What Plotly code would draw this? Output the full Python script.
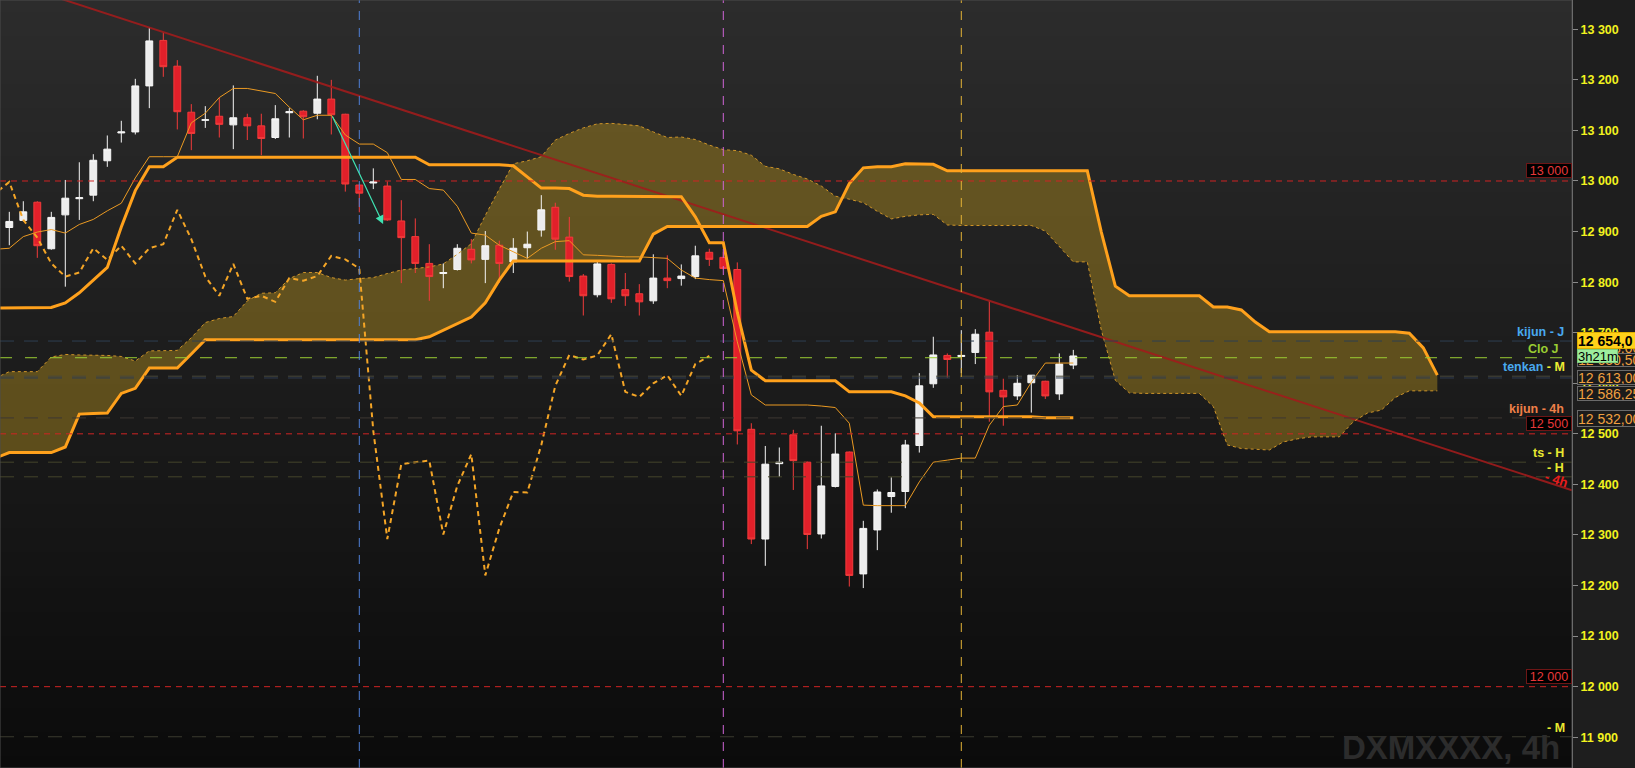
import plotly.graph_objects as go

# ---------------- data ----------------
candle_x = list(range(77))
open_ = [12908, 12922, 12958, 12866, 12933, 12965, 12972, 13040, 13095, 13097,
         13188, 13278, 13227, 13136, 13120, 13128, 13111, 13125, 13109, 13086,
         13135, 13138, 13134, 13162, 13132, 12992, 12996, 12990, 12921, 12890,
         12837, 12817, 12825, 12865, 12845, 12873, 12840, 12868, 12903, 12948,
         12889, 12812, 12775, 12835, 12785, 12777, 12763, 12808, 12807, 12811,
         12859, 12849, 12825, 12509, 12292, 12441, 12498, 12444, 12302, 12396,
         12464, 12223, 12310, 12376, 12386, 12477, 12599, 12655, 12653, 12661,
         12701, 12586, 12575, 12601, 12604, 12579, 12636]
high = [12939, 12960, 12960, 12939, 13002, 13037, 13053, 13090, 13119, 13202,
        13303, 13294, 13239, 13152, 13148, 13165, 13189, 13133, 13133, 13150,
        13144, 13140, 13208, 13200, 13133, 12993, 13025, 12999, 12962, 12926,
        12875, 12837, 12875, 12885, 12901, 12882, 12887, 12900, 12972, 12957,
        12929, 12816, 12840, 12837, 12818, 12796, 12855, 12853, 12835, 12872,
        12866, 12860, 12839, 12521, 12476, 12473, 12508, 12445, 12516, 12501,
        12465, 12328, 12390, 12414, 12488, 12620, 12692, 12659, 12705, 12707,
        12763, 12609, 12616, 12616, 12605, 12659, 12666]
low = [12873, 12920, 12848, 12864, 12791, 12923, 12960, 13028, 13076, 13092,
       13144, 13206, 13102, 13061, 13105, 13086, 13063, 13081, 13051, 13083,
       13086, 13084, 13122, 13092, 12979, 12938, 12984, 12921, 12798, 12818,
       12763, 12788, 12823, 12837, 12798, 12799, 12818, 12847, 12890, 12864,
       12801, 12734, 12770, 12759, 12753, 12734, 12757, 12788, 12793, 12806,
       12832, 12825, 12479, 12282, 12239, 12415, 12389, 12272, 12293, 12394,
       12198, 12195, 12270, 12344, 12353, 12463, 12591, 12611, 12620, 12638,
       12524, 12516, 12567, 12542, 12569, 12567, 12628]
close = [12920, 12939, 12872, 12928, 12966, 12967, 13041, 13063, 13097, 13188,
         13277, 13226, 13137, 13094, 13121, 13112, 13125, 13109, 13084, 13123,
         13137, 13127, 13162, 13131, 12994, 12976, 12998, 12923, 12888, 12837,
         12811, 12819, 12867, 12844, 12872, 12837, 12867, 12875, 12943, 12885,
         12811, 12773, 12836, 12767, 12773, 12761, 12808, 12803, 12812, 12852,
         12845, 12827, 12506, 12292, 12440, 12444, 12447, 12301, 12397, 12460,
         12220, 12313, 12385, 12384, 12478, 12595, 12656, 12647, 12655, 12697,
         12583, 12573, 12600, 12616, 12575, 12638, 12654]

ichi_x = list(range(-1, 77))
tenkan = [12865, 12867, 12890, 12899, 12904, 12897, 12914, 12924, 12941, 12956,
          13006, 13048, 13048, 13048, 13115, 13134, 13165, 13183, 13183, 13178,
          13173, 13146, 13121, 13130, 13130, 13091, 13073, 13073, 13056, 13003,
          13003, 12985, 12982, 12950, 12897, 12893, 12873, 12860, 12847, 12867,
          12880, 12882, 12854, 12853, 12851, 12850, 12850, 12849, 12847, 12824,
          12808, 12805, 12803, 12682, 12577, 12557, 12557, 12557, 12557, 12555,
          12552, 12521, 12359, 12358, 12358, 12358, 12405, 12444, 12448, 12452,
          12452, 12517, 12554, 12557, 12602, 12640, 12640, 12640]
kijun = [12749, 12749, 12749, 12749, 12750, 12759, 12779, 12804, 12829, 12909,
         12981, 13028, 13028, 13047, 13047, 13047, 13047, 13047, 13047, 13047,
         13047, 13047, 13047, 13047, 13047, 13047, 13047, 13047, 13047, 13047,
         13047, 13032, 13032, 13032, 13032, 13032, 13032, 13030, 13008, 12986,
         12986, 12985, 12972, 12970, 12970, 12970, 12970, 12970, 12970, 12969,
         12929, 12878, 12878, 12740, 12626, 12605, 12605, 12605, 12605, 12605,
         12605, 12583, 12583, 12583, 12583, 12575, 12561, 12534, 12534, 12534,
         12534, 12534, 12534, 12534, 12534, 12532, 12532, 12532]

cloud_x = list(range(-1, 103))
senkou_a = [12610, 12623, 12623, 12623, 12652, 12657, 12656, 12656, 12655, 12653,
            12644, 12664, 12664, 12665, 12690, 12720, 12728, 12732, 12763, 12778,
            12779, 12807, 12819, 12819, 12809, 12804, 12807, 12809, 12817, 12824,
            12827, 12830, 12836, 12855, 12876, 12932, 12984, 13034, 13040, 13048,
            13081, 13094, 13105, 13113, 13114, 13112, 13109, 13097, 13086, 13087,
            13082, 13071, 13062, 13060, 13051, 13029, 13024, 13013, 13004, 12990,
            12970, 12964, 12957, 12940, 12925, 12930, 12933, 12934, 12913, 12912,
            12912, 12912, 12912, 12912, 12912, 12901, 12871, 12840, 12840, 12705,
            12606, 12581, 12580, 12580, 12580, 12580, 12580, 12554, 12478, 12471,
            12470, 12468, 12484, 12490, 12494, 12494, 12494, 12524, 12541, 12547,
            12572, 12585, 12585, 12585]
senkou_b = [12452, 12463, 12463, 12463, 12463, 12474, 12539, 12540, 12541, 12580,
            12590, 12630, 12630, 12630, 12658, 12686, 12686, 12686, 12686, 12686,
            12686, 12686, 12686, 12686, 12686, 12686, 12686, 12686, 12686, 12686,
            12686, 12692, 12705, 12717, 12731, 12759, 12804, 12842, 12842, 12842,
            12842, 12842, 12842, 12842, 12842, 12842, 12842, 12895, 12910, 12910,
            12910, 12910, 12910, 12910, 12910, 12910, 12910, 12910, 12910, 12930,
            12939, 12995, 13026, 13028, 13028, 13034, 13034, 13033, 13020, 13020,
            13020, 13020, 13020, 13020, 13020, 13020, 13020, 13020, 13020, 12899,
            12792, 12773, 12773, 12773, 12773, 12773, 12773, 12751, 12751, 12745,
            12721, 12702, 12702, 12702, 12702, 12702, 12702, 12702, 12702, 12702,
            12702, 12699, 12670, 12616]
chikou_shift = 26

trend_x = [-0.664, 111.62]
trend_y = [13399.5, 12388.4]

arrow_x = [23.03, 26.7]
arrow_y = [13130.5, 12915.0]

vline_x = [25, 51, 68]
vline_colors = ['#4f80d8', '#d064d8', '#e3b236']

red_levels = [13000, 12500, 12000]
red_level_text = ['13 000', '12 500', '12 000']

aux_levels = [12683.5, 12650.5, 12614.0, 12610.5, 12531.5, 12444.0, 12415.0, 11901.0]
aux_colors = ['#2e3f52', '#9acd32', '#47473a', '#2e3c52', '#3e3833', '#45452b', '#45452b', '#3a3a2e']

level_label_text = ['kijun - J', 'Clo J',
                    '<span style="color:#49a9ef">tenkan</span> - M',
                    'kijun - 4h', 'ts - H', '- H', '- M']
level_label_y = [12683.5, 12650.5, 12614.0, 12531.5, 12444.0, 12415.0, 11901.0]
level_label_color = ['#49a9ef', '#9acd32', '#eded33', '#ef8048', '#e8e830', '#e8e830', '#e8e830']

ytick_vals = list(range(11900, 13301, 100))
ytick_text = ['%d %03d' % (v // 1000, v % 1000) for v in ytick_vals]

price_labels = ['12 683,00', '12 650,50', '12 654,0', '3h21m', '12 613,00', '12 586,25', '12 532,00']

# ---------------- geometry ----------------
W, H = 1635, 768
PLOT_W = 1572
X_RANGE = [-0.664, 111.62]
Y_RANGE = [11839.2, 13357.9]


def py(ypx):
    return 1 - ypx / H


def px(xpx):
    return xpx / PLOT_W


fig = go.Figure()

# trend line
fig.add_trace(go.Scatter(x=trend_x, y=trend_y, mode='lines',
                         line=dict(color='rgba(160,28,28,0.9)', width=2), hoverinfo='skip'))

# candles
fig.add_trace(go.Candlestick(
    x=candle_x, open=open_, high=high, low=low, close=close,
    increasing=dict(line=dict(color='#f6f6f6', width=1), fillcolor='#ededed'),
    decreasing=dict(line=dict(color='#f23b3b', width=1), fillcolor='#e2202a'),
    whiskerwidth=0, hoverinfo='skip'))

# ichimoku lines
fig.add_trace(go.Scatter(x=cloud_x, y=senkou_a, mode='lines',
                         line=dict(color='#cf9428', width=1, dash='3px,3px'), hoverinfo='skip'))
fig.add_trace(go.Scatter(x=cloud_x, y=senkou_b, mode='lines',
                         line=dict(color='#ffa11c', width=3), hoverinfo='skip'))
fig.add_trace(go.Scatter(x=ichi_x, y=kijun, mode='lines',
                         line=dict(color='#ffa11c', width=3), hoverinfo='skip'))
fig.add_trace(go.Scatter(x=ichi_x, y=tenkan, mode='lines',
                         line=dict(color='#eb9a22', width=1), hoverinfo='skip'))
fig.add_trace(go.Scatter(x=[i - chikou_shift for i in candle_x], y=close, mode='lines',
                         line=dict(color='#f4a526', width=2, dash='5px,4px'), hoverinfo='skip'))

shapes = []
# background gradient
N = 64
for k in range(N):
    t = (k + 0.5) / N
    c = int(round(44 - 33 * t))
    shapes.append(dict(type='rect', xref='paper', yref='paper', x0=0, x1=1,
                       y0=1 - (k + 1) / N, y1=1 - k / N, layer='below',
                       line=dict(width=0), fillcolor='rgb(%d,%d,%d)' % (c, c, c)))
# cloud
pa = ' L '.join('%s,%s' % (x, y) for x, y in zip(cloud_x, senkou_a))
pb = ' L '.join('%s,%s' % (x, y) for x, y in reversed(list(zip(cloud_x, senkou_b))))
shapes.append(dict(type='path', xref='x', yref='y', path='M ' + pa + ' L ' + pb + ' Z',
                   layer='below', line=dict(width=0), fillcolor='rgba(178,143,30,0.45)'))
# aux level lines
for v, c in zip(aux_levels, aux_colors):
    dash = '12px,13px' if c == '#9acd32' else '14px,10px'
    shapes.append(dict(type='line', xref='paper', yref='y', x0=0, x1=1, y0=v, y1=v,
                       layer='above', line=dict(color=c, width=1, dash=dash)))
# red levels
for v in red_levels:
    shapes.append(dict(type='line', xref='paper', yref='y', x0=0, x1=1, y0=v, y1=v,
                       layer='above', line=dict(color='#d02424', width=1, dash='6px,5px')))
# vertical separators
for x, c in zip(vline_x, vline_colors):
    shapes.append(dict(type='line', xref='x', yref='paper', x0=x, x1=x, y0=0, y1=1,
                       layer='above', line=dict(color=c, width=1, dash='9px,8px')))
# plot frame
shapes.append(dict(type='rect', xref='paper', yref='paper', x0=0, x1=1, y0=0, y1=1,
                   layer='above', line=dict(color='#4c4c4c', width=1)))

FONT = 'Liberation Sans, Arial, sans-serif'
ann = []
# arrow drawing
ann.append(dict(x=arrow_x[1], y=arrow_y[1], ax=arrow_x[0], ay=arrow_y[0], xref='x', yref='y',
                axref='x', ayref='y', text='', showarrow=True, arrowhead=2, arrowsize=1.4,
                arrowwidth=1.2, arrowcolor='#3fe2b2'))
# level labels inside plot
label_right = [1566, 1561, 1567, 1566, 1566, 1566, 1567]
for t, v, c, xr in zip(level_label_text, level_label_y, level_label_color, label_right):
    ann.append(dict(xref='paper', yref='y', x=px(xr), y=v, yshift=9, xanchor='right',
                    yanchor='middle', text=t, showarrow=False,
                    font=dict(family=FONT, size=12.5, color=c, weight='bold')))
ann.append(dict(xref='paper', yref='paper', x=px(1556), y=py(479), xanchor='center',
                yanchor='middle', text='- 4h', showarrow=False, textangle=18,
                font=dict(family=FONT, size=13, color='#e81c1c', weight='bold')))
# red boxed level labels
for v, t in zip(red_levels, red_level_text):
    ann.append(dict(xref='paper', yref='y', x=1, y=v, yshift=10, xanchor='right',
                    yanchor='middle', text=t, showarrow=False, bgcolor='#000000',
                    bordercolor='#6e1616', borderwidth=1, borderpad=0, width=44, height=13,
                    font=dict(family=FONT, size=12.5, color='#e8383a')))
# price boxes on the axis
box_specs = [
    # text, y_top, y_bot, bg, fg, border, bold, size, width
    (price_labels[0], 341, 355, '#1b1b1b', '#f0a040', '#6a6a6a', False, 14, 70),
    (price_labels[1], 353, 367, '#1b1b1b', '#f0a040', '#6a6a6a', False, 14, 70),
    (price_labels[2], 332, 349, '#ffd11a', '#000000', '#e0b000', True, 14, 70),
    (price_labels[3], 349.5, 363.5, '#9ded9d', '#000000', '#7ccc7c', False, 13, 39),
    (price_labels[4], 370, 385, '#1b1b1b', '#f0a040', '#6a6a6a', False, 14, 70),
    (price_labels[5], 386, 401, '#1b1b1b', '#f0a040', '#6a6a6a', False, 14, 70),
    (price_labels[6], 410, 427, '#1b1b1b', '#f0a040', '#6a6a6a', False, 14, 70),
]
for t, y0, y1, bg, fg, bc, bold, size, w in box_specs:
    ann.append(dict(xref='paper', yref='paper', x=px(1577), y=py((y0 + y1) / 2),
                    xanchor='left', yanchor='middle', text=t, showarrow=False,
                    bgcolor=bg, bordercolor=bc, borderwidth=1, borderpad=0,
                    width=w, height=y1 - y0 - 2, align='left',
                    font=dict(family=FONT, size=size, color=fg,
                              weight='bold' if bold else 'normal')))
# watermark
ann.append(dict(xref='paper', yref='paper', x=px(1562), y=0, xanchor='right', yanchor='bottom',
                text='DXMXXXX, 4h', showarrow=False,
                font=dict(family=FONT, size=33, color='#2c2c2c', weight='bold')))

fig.update_layout(
    width=W, height=H, margin=dict(l=0, r=W - PLOT_W, t=0, b=0),
    paper_bgcolor='#1e1e1e', plot_bgcolor='#1a1a1a', showlegend=False,
    shapes=shapes, annotations=ann, hovermode=False,
    xaxis=dict(range=X_RANGE, visible=False, rangeslider=dict(visible=False), fixedrange=True),
    yaxis=dict(range=Y_RANGE, side='right', tickvals=ytick_vals, ticktext=ytick_text,
               ticks='outside', ticklen=5, tickcolor='#8a8a8a', showgrid=False,
               zeroline=False, showline=True, linecolor='#8a8a8a', linewidth=1,
               tickfont=dict(family=FONT, size=12.5, color='#f2f21e', weight='bold'),
               fixedrange=True),
)

fig.write_html("out.html", config={'displayModeBar': False},
               post_script="document.body.style.margin='0';document.body.style.overflow='hidden';document.body.style.background='#1e1e1e';")
